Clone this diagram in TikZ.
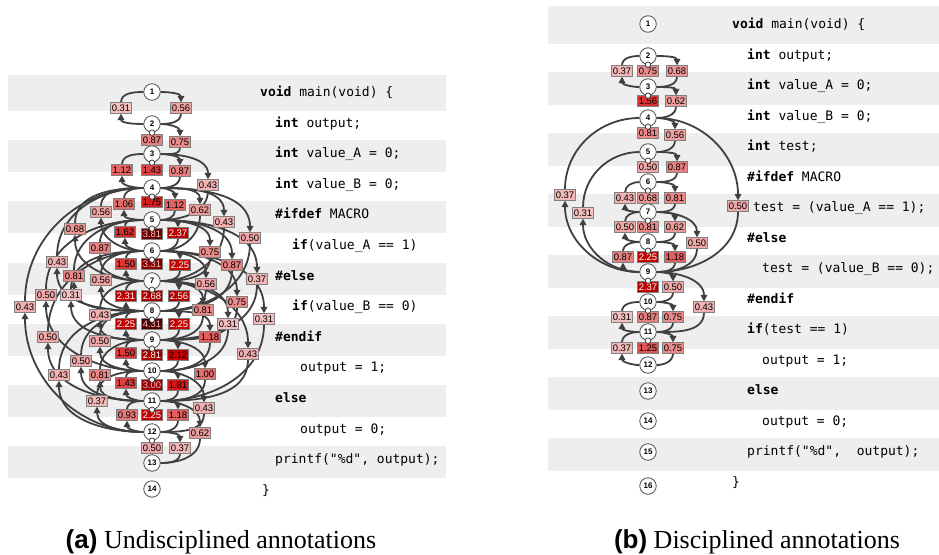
\documentclass[tikz,border=0pt]{standalone}
\usepackage{fontspec}
\setmainfont{Liberation Serif}
\newfontfamily\codefont{DejaVu Sans Mono}
\newfontfamily\labfont{Liberation Sans}
\usetikzlibrary{arrows.meta}
\pgfdeclarelayer{back}\pgfdeclarelayer{mid}\pgfsetlayers{back,mid,main}
\definecolor{lred}{RGB}{210,0,0}
\definecolor{edgec}{RGB}{64,64,64}
\definecolor{stripe}{RGB}{238,238,238}
\tikzset{
  stn/.style={circle, draw=black!70, line width=0.8pt, fill=white, minimum size=16.5pt, inner sep=0pt, font=\labfont\bfseries\fontsize{8}{9}\selectfont},
  lbl/.style={rectangle, draw=black!50, line width=0.6pt, inner sep=1.2pt, minimum height=10.5pt, minimum width=21pt, font=\labfont\fontsize{9.5}{10}\selectfont},
  edge/.style={draw=edgec, line width=1.8pt},
  arr/.style={-{Triangle[length=6.5pt,width=6.5pt]}},
  code/.style={anchor=base west, inner sep=0pt, font=\codefont\fontsize{13}{15}\selectfont},
  captext/.style={anchor=base, inner sep=0pt, font=\fontsize{26}{30}\selectfont},
}
\newcommand\setlabcol[1]{%
  \ifdim #1pt<2pt
    \pgfmathtruncatemacro\pp{min(100,12+44*#1)}%
    \colorlet{labfill}{lred!\pp!white}\colorlet{labtxt}{black}%
  \else
    \pgfmathtruncatemacro\pp{max(30,100-28*(#1-2))}%
    \colorlet{labfill}{lred!\pp!black}%
    \ifdim #1pt<2.2pt \colorlet{labtxt}{black}\else
      \ifdim #1pt<3pt \colorlet{labtxt}{white}\else \colorlet{labtxt}{white!75!lred}\fi\fi
  \fi}
\newcommand\lab[3]{\setlabcol{#3}\node[lbl, fill=labfill, text=labtxt] (#1) at (#2) {#3};}
% forward edge: src (upper) -> tgt (lower), right side
\newcommand\fw[4]{\lab{l#1#2}{#3}{#4}%
  \begin{pgfonlayer}{mid}
    \draw[edge,arr] (#1) to[out=0,in=90] (l#1#2);
    \draw[edge] (l#1#2) to[out=-90,in=0] (#2);
  \end{pgfonlayer}}
% backward edge: src (lower) -> tgt (upper), left side
\newcommand\bw[4]{\lab{l#1#2}{#3}{#4}%
  \begin{pgfonlayer}{mid}
    \draw[edge,arr] (#1) to[out=180,in=-90] (l#1#2);
    \draw[edge] (l#1#2) to[out=90,in=180] (#2);
  \end{pgfonlayer}}
\newcommand\selfl[3]{\lab{s#1}{#2}{#3}%
  \draw[edgec,line width=0.8pt,fill=white] (#1.south) circle[radius=2.7pt];}
\begin{document}
\begin{tikzpicture}[x=1pt,y=-1pt]
\useasboundingbox (0,0) rectangle (939,554);
% stripes
\begin{pgfonlayer}{back}
\fill[stripe] (8,75) rectangle (446,95);
\foreach \k in {0,2,...,12} \fill[stripe] (8,{95+30.6*\k-16}) rectangle (446,{95+30.6*\k+16});
\fill[stripe] (548,6) rectangle (939,27);
\foreach \k in {0,2,...,14} \fill[stripe] (548,{27+30.5*\k-16.5}) rectangle (939,{27+30.5*\k+16.5});
\end{pgfonlayer}
% ---------------- left code
\node[code] (ca1) at (260,96.5) {\textbf{void} main(void) \{};
\node[code] (ca2) at (275,127.1) {\textbf{int} output;};
\node[code] (ca3) at (275,157.7) {\textbf{int} value\_A = 0;};
\node[code] (ca4) at (275,188.3) {\textbf{int} value\_B = 0;};
\node[code] (ca5) at (275,218.9) {\textbf{\#ifdef} MACRO};
\node[code] (ca6) at (292,249.5) {\textbf{if}(value\_A == 1)};
\node[code] (ca7) at (275,280.1) {\textbf{\#else}};
\node[code] (ca8) at (292,310.7) {\textbf{if}(value\_B == 0)};
\node[code] (ca9) at (275,341.3) {\textbf{\#endif}};
\node[code] (ca10) at (300,371.9) {output = 1;};
\node[code] (ca11) at (275,402.5) {\textbf{else}};
\node[code] (ca12) at (300,433.1) {output = 0;};
\node[code] (ca13) at (275,463.7) {printf("\%d", output);};
\node[code] (ca14) at (262,494.3) {\}};
% ---------------- right code
\node[code] (cb1) at (732,28.5) {\textbf{void} main(void) \{};
\node[code] (cb2) at (747,59) {\textbf{int} output;};
\node[code] (cb3) at (747,89.5) {\textbf{int} value\_A = 0;};
\node[code] (cb4) at (747,120) {\textbf{int} value\_B = 0;};
\node[code] (cb5) at (747,150.5) {\textbf{int} test;};
\node[code] (cb6) at (747,181) {\textbf{\#ifdef} MACRO};
\node[code] (cb7) at (753,211.5) {test = (value\_A == 1);};
\node[code] (cb8) at (747,242) {\textbf{\#else}};
\node[code] (cb9) at (762,272.5) {test = (value\_B == 0);};
\node[code] (cb10) at (747,303) {\textbf{\#endif}};
\node[code] (cb11) at (747,333.5) {\textbf{if}(test == 1)};
\node[code] (cb12) at (762,364) {output = 1;};
\node[code] (cb13) at (747,394.5) {\textbf{else}};
\node[code] (cb14) at (762,425) {output = 0;};
\node[code] (cb15) at (747,455.5) {printf("\%d",~~output);};
\node[code] (cb16) at (732,486) {\}};
% ---------------- left nodes
\foreach \n/\y in {1/92,2/124,3/154,4/188,5/220,6/251,7/281,8/311,9/340,10/371,11/401,12/432,13/463,14/489}
  \node[stn] (a\n) at (152,\y) {\n};
% ---------------- right nodes
\foreach \n/\y in {1/24,2/56,3/87,4/118,5/152,6/182,7/212,8/242,9/272,10/302,11/332,12/365,13/391,14/421,15/452,16/486}
  \node[stn] (b\n) at (648,\y) {\n};
% ---------------- left edges
\fw{a1}{a2}{181,108}{0.56}
\fw{a2}{a3}{180,142}{0.75}
\fw{a3}{a4}{180,171}{0.87}
\fw{a3}{a5}{208,185}{0.43}
\fw{a4}{a5}{175,205}{1.12}
\fw{a4}{a6}{200,210}{0.62}
\fw{a4}{a7}{224,222}{0.43}
\fw{a4}{a8}{250,238}{0.50}
\fw{a5}{a6}{178,233}{2.37}
\fw{a5}{a7}{210,252}{0.75}
\fw{a5}{a8}{232,265}{0.87}
\fw{a5}{a9}{257,279}{0.37}
\fw{a6}{a7}{180,265}{2.25}
\fw{a6}{a8}{206,284}{0.56}
\fw{a6}{a9}{237,302}{0.75}
\fw{a6}{a11}{264,319}{0.31}
\fw{a7}{a8}{179,296}{2.56}
\fw{a7}{a9}{203,310}{0.81}
\fw{a7}{a10}{228,324}{0.31}
\fw{a7}{a11}{248,354}{0.43}
\fw{a8}{a9}{179,324}{2.25}
\fw{a8}{a10}{210,337}{1.18}
\fw{a9}{a10}{178,355}{2.12}
\fw{a9}{a11}{205,374}{1.00}
\fw{a10}{a11}{178,385}{1.81}
\fw{a10}{a12}{204,408}{0.43}
\fw{a11}{a12}{178,415}{1.18}
\fw{a11}{a13}{200,433}{0.62}
\fw{a12}{a13}{180,448}{0.37}
\bw{a2}{a1}{121,108}{0.31}
\bw{a4}{a3}{122,170}{1.12}
\bw{a5}{a4}{124,204}{1.06}
\bw{a6}{a4}{101,212}{0.56}
\bw{a7}{a4}{75,229}{0.68}
\bw{a8}{a4}{57,262}{0.43}
\bw{a12}{a4}{25,307}{0.43}
\bw{a6}{a5}{125,232}{1.62}
\bw{a7}{a5}{100,248}{0.87}
\bw{a8}{a5}{74,276}{0.81}
\bw{a10}{a5}{46,295}{0.50}
\bw{a7}{a6}{126,264}{1.50}
\bw{a8}{a6}{101,280}{0.56}
\bw{a9}{a6}{71,295}{0.31}
\bw{a11}{a6}{48,337}{0.50}
\bw{a8}{a7}{126,296}{2.31}
\bw{a9}{a7}{100,315}{0.43}
\bw{a9}{a8}{126,324}{2.25}
\bw{a10}{a8}{100,341}{0.50}
\bw{a11}{a8}{81,361}{0.50}
\bw{a12}{a8}{59,375}{0.43}
\bw{a10}{a9}{126,353}{1.50}
\bw{a11}{a9}{100,375}{0.81}
\bw{a11}{a10}{126,383}{1.43}
\bw{a12}{a10}{97,401}{0.37}
\bw{a12}{a11}{127,415}{0.93}
\selfl{a2}{152,140}{0.87}
\selfl{a3}{152,170}{1.43}
\selfl{a4}{152,202}{1.75}
\selfl{a5}{152,234}{3.81}
\selfl{a6}{152,264}{3.31}
\selfl{a7}{152,296}{2.68}
\selfl{a8}{152,324}{4.31}
\selfl{a9}{152,355}{2.81}
\selfl{a10}{152,385}{3.00}
\selfl{a11}{152,415}{2.25}
\selfl{a12}{152,448}{0.50}
% ---------------- right edges
\fw{b2}{b3}{677,71}{0.68}
\fw{b3}{b4}{676,101}{0.62}
\fw{b4}{b5}{675,135}{0.56}
\fw{b5}{b6}{677,167}{0.87}
\fw{b6}{b7}{675,198}{0.81}
\fw{b7}{b8}{675,227}{0.62}
\fw{b7}{b9}{697,243}{0.50}
\fw{b8}{b9}{675,257}{1.18}
\fw{b9}{b10}{673,287}{0.50}
\fw{b9}{b11}{704,307}{0.43}
\fw{b10}{b11}{673,317}{0.75}
\fw{b11}{b12}{673,348}{0.75}
\fw{b4}{b9}{738,206}{0.50}
\bw{b3}{b2}{622,71}{0.37}
\bw{b7}{b6}{625,198}{0.43}
\bw{b8}{b7}{625,227}{0.50}
\bw{b9}{b8}{623,257}{0.87}
\bw{b11}{b10}{622,317}{0.31}
\bw{b12}{b11}{622,348}{0.37}
\bw{b9}{b4}{565,195}{0.37}
\bw{b9}{b5}{583,213}{0.31}
\selfl{b2}{648,71}{0.75}
\selfl{b3}{648,101}{1.56}
\selfl{b4}{648,133}{0.81}
\selfl{b5}{648,167}{0.50}
\selfl{b6}{648,198}{0.68}
\selfl{b7}{648,227}{0.81}
\selfl{b8}{648,257}{2.25}
\selfl{b9}{648,287}{2.37}
\selfl{b10}{648,317}{0.87}
\selfl{b11}{648,348}{1.25}
% ---------------- captions
\node[captext] (capa) at (221,548) {{\labfont\bfseries (a)} Undisciplined annotations};
\node[captext] (capb) at (757,548) {{\labfont\bfseries (b)} Disciplined annotations};
\end{tikzpicture}
\end{document}
